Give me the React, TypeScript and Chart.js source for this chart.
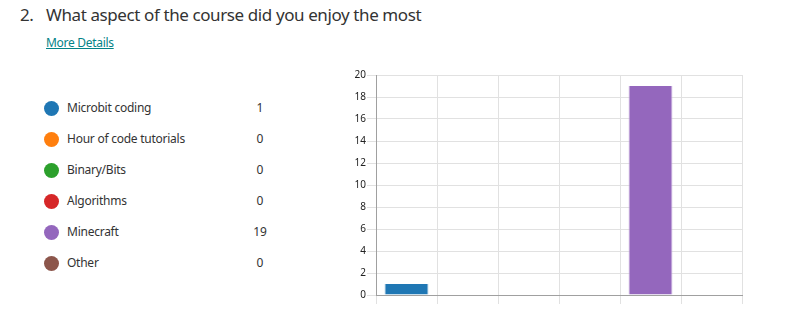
import React, { useEffect, useRef } from "react";
import { Chart, registerables } from "chart.js";

Chart.register(...registerables);

const categories = ["Microbit coding", "Hour of code tutorials", "Binary/Bits", "Algorithms", "Minecraft", "Other"];
const counts = [1, 0, 0, 0, 19, 0];
const colors = ["#1f77b4", "#ff7f0e", "#2ca02c", "#d62728", "#9467bd", "#8c564b"];
const borderColors = ["#8fbbd9", "#ffbf86", "#95cf95", "#eb9393", "#c9b3de", "#c5aaa5"];
const yTicks = [0, 2, 4, 6, 8, 10, 12, 14, 16, 18, 20];

const FONT = "'Noto Sans', 'Open Sans', sans-serif";

export default function App() {
  const ref = useRef<HTMLCanvasElement | null>(null);

  useEffect(() => {
    document.body.style.margin = "0";
    const ctx = ref.current!;
    const chart = new Chart(ctx, {
      type: "bar",
      data: {
        labels: categories,
        datasets: [
          {
            data: counts,
            backgroundColor: colors,
            borderColor: borderColors,
            borderWidth: { left: 1, right: 1, top: 0, bottom: 0 },
            borderSkipped: false,
            categoryPercentage: 0.8,
            barPercentage: 0.9,
          },
        ],
      },
      options: {
        animation: false,
        responsive: false,
        maintainAspectRatio: false,
        layout: { padding: { top: 15, right: 8, left: 0, bottom: 0 } },
        plugins: { legend: { display: false }, tooltip: { enabled: false } },
        scales: {
          x: {
            grid: { color: "#e1e1e1", tickLength: 9, offset: true, drawTicks: true },
            border: { color: "#a0a0a0" },
            ticks: { display: false },
            afterFit: (s: any) => {
              s.height = 20;
            },
          },
          y: {
            min: 0,
            max: 20,
            afterBuildTicks: (s: any) => {
              s.ticks = yTicks.map((v) => ({ value: v }));
            },
            grid: { color: "#e1e1e1", tickLength: 9 },
            border: { color: "#a0a0a0" },
            ticks: {
              padding: 1,
              color: "#222222",
              font: { family: FONT, size: 10 },
            },
            afterFit: (s: any) => {
              s.width = 46;
            },
          },
        },
      },
    });
    return () => chart.destroy();
  }, []);

  return (
    <div style={{ position: "fixed", left: 0, top: 0, width: 786, height: 323, background: "#fff", fontFamily: FONT, color: "#333" }}>
      <div style={{ position: "absolute", left: 20, top: 1, fontSize: 17, lineHeight: "28px", whiteSpace: "nowrap", color: "#333", letterSpacing: "-0.4px" }}>
        <span style={{ display: "inline-block", width: 26 }}>2.</span>
        <span>What aspect of the course did you enjoy the most</span>
      </div>
      <div style={{ position: "absolute", left: 46, top: 35, fontSize: 12, lineHeight: "16px", color: "#038387", textDecoration: "underline", letterSpacing: "-0.3px" }}>
        More Details
      </div>
      {categories.map((c, i) => (
        <div key={c} style={{ position: "absolute", left: 44, top: 108 + i * 31 - 10, height: 20, width: 240, fontSize: 12 }}>
          <span style={{ position: "absolute", left: 0, top: 3, width: 15, height: 15, borderRadius: "50%", background: colors[i] }} />
          <span style={{ position: "absolute", left: 23, top: 0, lineHeight: "20px", whiteSpace: "nowrap", letterSpacing: "-0.25px" }}>{c}</span>
          <span style={{ position: "absolute", left: 196, width: 40, textAlign: "center", top: 0, lineHeight: "20px" }}>{counts[i]}</span>
        </div>
      ))}
      <canvas ref={ref} width={420} height={255} style={{ position: "absolute", left: 330, top: 60, width: 420, height: 255 }} />
    </div>
  );
}
